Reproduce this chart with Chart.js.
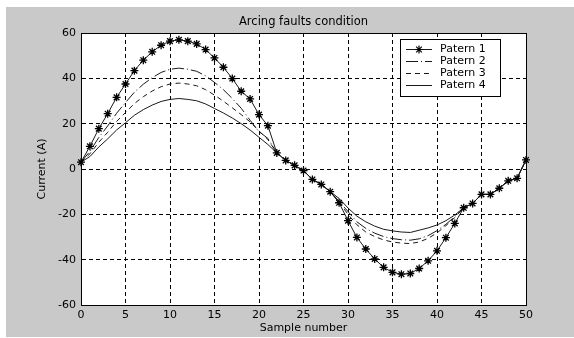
<!DOCTYPE html>
<html>
<head>
<meta charset="utf-8">
<script src="https://cdn.jsdelivr.net/npm/chart.js@4"></script>
<style>
  html, body { margin: 0; padding: 0; background: #fff; }
  #wrap { width: 574px; height: 338px; }
</style>
</head>
<body>
<div id="wrap"><canvas id="chart" width="574" height="338"></canvas></div>
<script>
'use strict';

// ── Data ──────────────────────────────────────────────────────────────
const samples = [0, 1, 2, 3, 4, 5, 6, 7, 8, 9, 10, 11, 12, 13, 14, 15, 16, 17, 18, 19, 20,
  21, 22, 23, 24, 25, 26, 27, 28, 29, 30, 31, 32, 33, 34, 35, 36, 37, 38, 39, 40,
  41, 42, 43, 44, 45, 46, 47, 48, 49, 50];

const patern1 = [3, 10, 17.8, 24.4, 31.6, 37.5, 43.4, 48, 51.7, 54.6, 56.4,
  57, 56.4, 55.2, 52.7, 49, 44.9, 39.9, 34.3, 30.9, 24,
  19.1, 7.1, 3.8, 1.6, -0.7, -4.6, -6.8, -10, -14.9, -22.8,
  -30.2, -35.3, -39.7, -43.4, -45.6, -46.4, -46.1, -43.9, -40.5, -36.1,
  -30.3, -24, -17.1, -15.2, -11.2, -11.2, -8.5, -5.2, -4.1, 4];

const patern2 = [3, 7.8, 13.9, 19.0, 24.6, 29.3, 33.9, 37.4, 40.3, 42.6, 44.0,
  44.5, 44.0, 43.1, 41.1, 38.2, 35.0, 31.1, 26.8, 21.5, 16.5,
  13.5, 7.1, 3.8, 1.6, -0.7, -4.6, -6.8, -10, -14.2, -18.8,
  -23.3, -26.2, -28.3, -29.8, -30.7, -31.2, -31.4, -30.8, -29.4, -27.2,
  -24.4, -21.0, -17.1, -15.2, -11.2, -11.2, -8.5, -5.2, -4.1, 4];

const patern3 = [3, 6.7, 11.8, 16.2, 21.0, 24.9, 28.9, 31.9, 34.4, 36.3, 37.5,
  37.9, 37.5, 36.7, 35.0, 32.6, 29.9, 27.0, 24.0, 20.8, 16.8,
  13.0, 7.1, 3.8, 1.6, -0.7, -4.6, -6.8, -10, -14.6, -20.0,
  -24.6, -27.8, -29.8, -31.3, -32.2, -32.7, -32.9, -32.2, -30.6, -28.2,
  -25.0, -21.4, -17.1, -15.2, -11.2, -11.2, -8.5, -5.2, -4.1, 4];

const patern4 = [3, 5.5, 9.7, 13.3, 17.2, 20.4, 23.7, 26.2, 28.2, 29.8, 30.7,
  31.1, 30.7, 30.1, 28.7, 26.7, 24.7, 22.5, 20.0, 17.2, 14.0,
  10.8, 7.1, 3.8, 1.6, -0.7, -4.6, -6.8, -10, -13.0, -17.2,
  -20.8, -23.3, -25.2, -26.6, -27.3, -27.8, -28.0, -27.0, -26.0, -24.7,
  -22.8, -20.3, -17.1, -15.2, -11.2, -11.2, -8.5, -5.2, -4.1, 4];

const seriesNames = ['Patern 1', 'Patern 2', 'Patern 3', 'Patern 4'];
const xTicks = [0, 5, 10, 15, 20, 25, 30, 35, 40, 45, 50];
const yTicks = [-60, -40, -20, 0, 20, 40, 60];

const chartTitle = 'Arcing faults condition';
const xTitle = 'Sample number';
const yTitle = 'Current (A)';

// ── Look ──────────────────────────────────────────────────────────────
const FONT = "'DejaVu Sans', 'Liberation Sans', Arial, sans-serif";
const FIG_GRAY = '#c9c9c9';
const DASHES = [[], [12, 3, 1, 3], [5, 4], []];

Chart.defaults.font.family = FONT;
Chart.defaults.font.size = 11;
Chart.defaults.color = '#000';

const toPoints = ys => samples.map((x, i) => ({ x, y: ys[i] }));

const datasets = [patern1, patern2, patern3, patern4].map((ys, i) => ({
  label: seriesNames[i],
  data: toPoints(ys),
  borderColor: '#1a1a1a',
  backgroundColor: '#1a1a1a',
  borderWidth: 1,
  borderDash: DASHES[i],
  pointStyle: i === 0 ? 'star' : 'circle',
  pointRadius: i === 0 ? 4 : 0,
  pointHoverRadius: i === 0 ? 4 : 0,
  pointBorderColor: '#000',
  pointBorderWidth: 1.3,
  tension: 0,
  clip: false,
}));

// ── Figure background, box, title and legend ──────────────────────────
const figurePlugin = {
  id: 'figure',
  beforeDraw(chart) {
    const { ctx, chartArea: a } = chart;
    ctx.save();
    ctx.fillStyle = '#fff';
    ctx.fillRect(0, 0, chart.width, chart.height);
    ctx.fillStyle = FIG_GRAY;
    ctx.fillRect(6, 7, chart.width - 6, chart.height - 8);
    ctx.fillStyle = '#fff';
    ctx.fillRect(a.left, a.top, a.right - a.left, a.bottom - a.top);
    ctx.restore();
  },
  afterDraw(chart) {
    const { ctx, chartArea: a } = chart;
    ctx.save();
    // axes box
    ctx.strokeStyle = '#000';
    ctx.lineWidth = 1;
    ctx.strokeRect(a.left + 0.5, a.top + 0.5, a.right - a.left, a.bottom - a.top);

    // title
    ctx.fillStyle = '#000';
    ctx.font = `11.5px ${FONT}`;
    ctx.textAlign = 'center';
    ctx.textBaseline = 'middle';
    ctx.fillText(chartTitle, (a.left + a.right) / 2, 22);

    // legend
    const lx = 400, ly = 39, lw = 100, lh = 57;
    ctx.fillStyle = '#fff';
    ctx.fillRect(lx, ly, lw, lh);
    ctx.strokeRect(lx + 0.5, ly + 0.5, lw, lh);
    ctx.font = `11px ${FONT}`;
    ctx.textAlign = 'left';
    chart.data.datasets.forEach((ds, i) => {
      const y = Math.round(ly + 9.5 + i * 12.3) + 0.5;
      ctx.strokeStyle = ds.borderColor;
      ctx.setLineDash(ds.borderDash);
      ctx.beginPath();
      ctx.moveTo(lx + 6, y);
      ctx.lineTo(lx + 32, y);
      ctx.stroke();
      ctx.setLineDash([]);
      if (ds.pointRadius > 0) {
        ctx.strokeStyle = '#000';
        ctx.lineWidth = 1.2;
        Chart.helpers.drawPoint(ctx, { pointStyle: 'star', radius: 4, rotation: 0, borderWidth: 1.2 }, lx + 19, y);
        ctx.lineWidth = 1;
      }
      ctx.fillStyle = '#000';
      ctx.fillText(ds.label, lx + 40, y);
    });
    ctx.restore();
  },
};

new Chart(document.getElementById('chart'), {
  type: 'line',
  data: { datasets },
  plugins: [figurePlugin],
  options: {
    responsive: false,
    animation: false,
    devicePixelRatio: 1,
    layout: { padding: { top: 33, right: 48, left: 0, bottom: 0 } },
    plugins: { legend: { display: false }, tooltip: { enabled: false }, title: { display: false } },
    scales: {
      x: {
        type: 'linear',
        min: 0, max: 50,
        afterFit: s => { s.height = 33; },
        afterBuildTicks: s => { s.ticks = xTicks.map(v => ({ value: v })); },
        ticks: { padding: 4, maxRotation: 0, autoSkip: false, font: { size: 11 } },
        grid: { color: '#000', lineWidth: 1, drawTicks: false },
        border: { display: true, color: '#000', width: 1, dash: [4, 3] },
        title: { display: true, text: xTitle, padding: { top: 0, bottom: 3 }, font: { size: 11 } },
      },
      y: {
        type: 'linear',
        min: -60, max: 60,
        afterFit: s => { s.width = 81; },
        afterBuildTicks: s => { s.ticks = yTicks.map(v => ({ value: v })); },
        ticks: { padding: 5, font: { size: 11 } },
        grid: { color: '#000', lineWidth: 1, drawTicks: false },
        border: { display: true, color: '#000', width: 1, dash: [4, 3] },
        title: { display: true, text: yTitle, padding: { top: 36, bottom: 0 }, font: { size: 11 } },
      },
    },
  },
});
</script>
</body>
</html>
